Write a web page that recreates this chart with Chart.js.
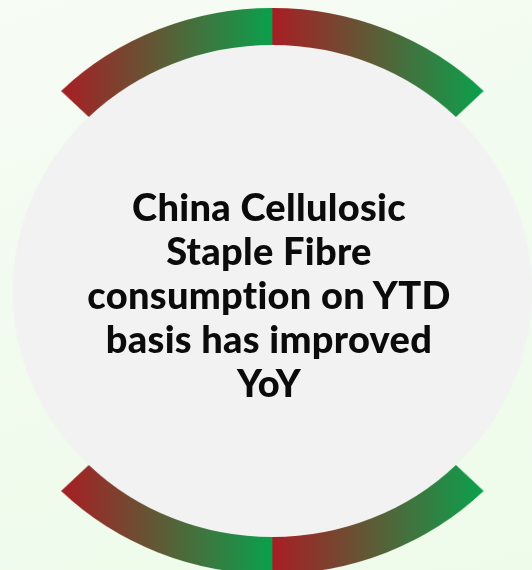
<!DOCTYPE html>
<html>
<head>
<meta charset="utf-8">
<script src="https://cdn.jsdelivr.net/npm/chart.js@4.4.1/dist/chart.umd.min.js"></script>
<style>
  html, body { margin: 0; padding: 0; }
  body {
    width: 532px; height: 570px; overflow: hidden; position: relative;
    background: linear-gradient(160deg, #f7fcf5 0%, #f1fbee 50%, #eefbea 100%);
  }
  #stretch {
    position: absolute; left: 0; top: 0; width: 504px; height: 570px;
    transform: scaleX(1.0556); transform-origin: 0 0;
  }
  #box { position: absolute; left: -25.3px; top: 7.8px; width: 566px; height: 566px; }
  #label {
    position: absolute; left: 69px; top: 184px; width: 400px;
    text-align: center; font-family: Lato, sans-serif; font-weight: 900;
    font-size: 38px; line-height: 44px; color: #0b0b0b; letter-spacing: 0.3px;
  }
</style>
</head>
<body>
<div id="stretch"><div id="box"><canvas id="myChart"></canvas></div></div>
<div id="label">China Cellulosic<br>Staple Fibre<br>consumption on YTD<br>basis has improved<br>YoY</div>
<script>
// ring pieces, in degrees, going clockwise from 45 deg left of the top
let segments = ['Top left', 'Top right', 'Gap right', 'Bottom right', 'Bottom left', 'Gap left'];
let degrees = [45, 45, 90, 45, 45, 90];
let isGap = [false, false, true, false, false, true];
let startRotation = -45;

let redEnd = '#a81e24';
let greenEnd = '#0aa14c';
let discColor = '#f2f2f2';

function ringColor(c) {
  let i = c.dataIndex;
  if (isGap[i]) return 'rgba(0,0,0,0)';
  let area = c.chart.chartArea;
  if (!area) return redEnd;
  let cx = (area.left + area.right) / 2;
  let R = Math.min(area.width, area.height) / 2;
  // middle angle of the piece decides left or right half
  let before = 0;
  for (let k = 0; k < i; k++) before += degrees[k];
  let mid = startRotation + before + degrees[i] / 2;
  let onRight = Math.sin(mid * Math.PI / 180) > 0;
  let half = R * Math.SQRT1_2;
  let x0 = onRight ? cx : cx - half;
  let x1 = onRight ? cx + half : cx;
  let g = c.chart.ctx.createLinearGradient(x0, 0, x1, 0);
  g.addColorStop(0, redEnd);
  g.addColorStop(1, greenEnd);
  return g;
}

const data = {
  labels: segments,
  datasets: [{
    label: 'ring',
    data: degrees,
    backgroundColor: ringColor,
    borderWidth: 0,
    weight: 37
  }, {
    label: 'disc',
    data: [1],
    backgroundColor: [discColor],
    borderWidth: 0,
    weight: 246
  }]
};

const config = {
  type: 'doughnut',
  data: data,
  options: {
    responsive: true,
    maintainAspectRatio: false,
    animation: false,
    events: [],
    cutout: 0,
    rotation: startRotation,
    circumference: 360,
    layout: { padding: 0 },
    plugins: {
      legend: { display: false },
      tooltip: { enabled: false }
    }
  }
};

var ctx = document.getElementById('myChart');
var mychart = new Chart(ctx, config);
</script>
</body>
</html>
